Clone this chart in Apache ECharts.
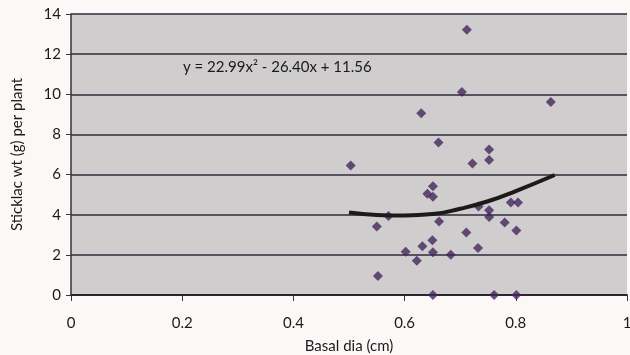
<!DOCTYPE html>
<html>
<head>
<meta charset="utf-8">
<script src="https://cdn.jsdelivr.net/npm/echarts@6/dist/echarts.min.js"></script>
<style>
  html, body { margin: 0; padding: 0; background: #fcf8f8; }
  #chart { width: 630px; height: 355px; }
</style>
</head>
<body>
<div id="chart"></div>
<script>
// basal dia (cm) vs sticklac wt (g) per plant
const basalDia = [0.712, 0.703, 0.863, 0.630, 0.661, 0.752, 0.752, 0.722, 0.503, 0.651,
  0.641, 0.651, 0.791, 0.804, 0.733, 0.752, 0.752, 0.571, 0.662, 0.780,
  0.550, 0.801, 0.711, 0.650, 0.632, 0.732, 0.602, 0.651, 0.683, 0.622,
  0.552, 0.651, 0.761, 0.801];
const sticklacWt = [13.22, 10.11, 9.61, 9.06, 7.60, 7.25, 6.73, 6.55, 6.45, 5.42,
  5.05, 4.89, 4.61, 4.61, 4.41, 4.22, 3.89, 3.94, 3.66, 3.61,
  3.41, 3.21, 3.11, 2.73, 2.43, 2.34, 2.16, 2.13, 2.01, 1.71,
  0.95, 0, 0, 0];

// trend line as drawn
const trendX = [0.50, 0.55, 0.60, 0.65, 0.70, 0.75, 0.80, 0.87];
const trendY = [4.11, 3.99, 3.96, 4.03, 4.30, 4.67, 5.18, 5.98];

const xTicks = [0, 0.2, 0.4, 0.6, 0.8, 1];
const yTicks = [0, 2, 4, 6, 8, 10, 12, 14];
const equation = 'y = 22.99x² - 26.40x + 11.56';

const font = 'Lato, "Open Sans", sans-serif';
const chart = echarts.init(document.getElementById('chart'));

const option = {
  animation: false,
  backgroundColor: '#fcf8f8',
  grid: {
    left: 71,
    right: 3,
    top: 14,
    bottom: 60,
    outerBoundsMode: 'none',
    show: true,
    backgroundColor: '#cfcdce',
    borderWidth: 0
  },
  xAxis: {
    type: 'value',
    min: 0,
    max: 1,
    interval: 0.2,
    name: 'Basal dia (cm)',
    nameLocation: 'middle',
    nameGap: 44,
    nameTextStyle: { fontFamily: font, fontSize: 15, color: '#1a1a1a' },
    axisLine: { onZero: false, lineStyle: { color: '#2a2630', width: 1.8 } },
    axisTick: { show: true, length: 6, lineStyle: { color: '#333' } },
    axisLabel: {
      fontFamily: font, fontSize: 15, color: '#1a1a1a', margin: 21,
      formatter: v => xTicks.includes(+v.toFixed(1)) ? String(+v.toFixed(1)) : ''
    },
    splitLine: { show: false }
  },
  yAxis: {
    type: 'value',
    min: 0,
    max: 14,
    interval: 2,
    name: 'Sticklac wt (g) per plant',
    nameLocation: 'middle',
    nameGap: 46,
    nameTextStyle: { fontFamily: font, fontSize: 15, color: '#1a1a1a' },
    axisLine: { show: true, lineStyle: { color: '#333', width: 1.5 } },
    axisTick: { show: true, length: 5, lineStyle: { color: '#333' } },
    axisLabel: {
      fontFamily: font, fontSize: 15, color: '#1a1a1a', margin: 10,
      formatter: v => yTicks.includes(v) ? String(v) : ''
    },
    splitLine: { show: true, lineStyle: { color: '#2f2a38', width: 1.5 } }
  },
  graphic: [{
    type: 'text',
    left: 183,
    top: 60,
    style: { text: equation, fontFamily: font, fontSize: 15, fill: '#1a1a1a' }
  }],
  series: [
    {
      type: 'scatter',
      symbol: 'diamond',
      symbolSize: 10,
      itemStyle: { color: '#43275c' },
      data: basalDia.map((x, i) => [x, sticklacWt[i]]),
      z: 3
    },
    {
      type: 'line',
      smooth: true,
      showSymbol: false,
      lineStyle: { color: '#1c1a1a', width: 4 },
      data: trendX.map((x, i) => [x, trendY[i]]),
      z: 4
    }
  ]
};

chart.setOption(option);
</script>
</body>
</html>
